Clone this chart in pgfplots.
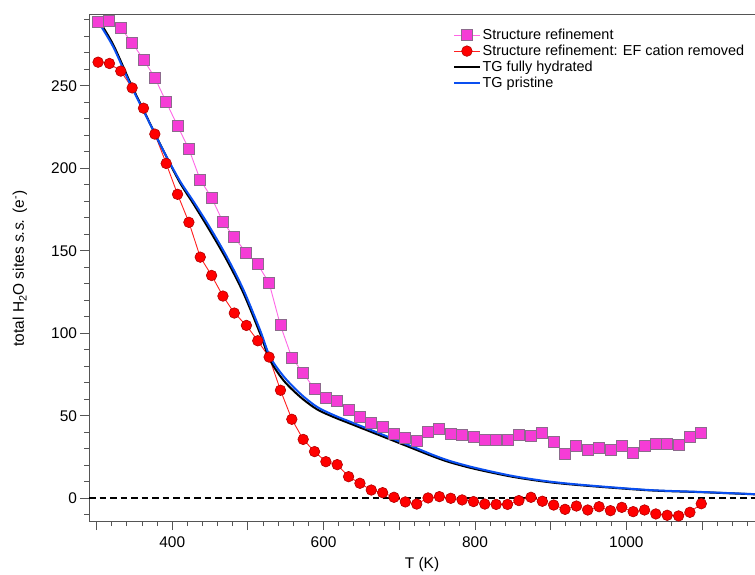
\documentclass[border=0pt]{standalone}
\usepackage{pgfplots}
\pgfplotsset{compat=1.18}
\usepackage{pgfplotstable}
\usepackage{fontspec}
\setmainfont{Liberation Sans}
\definecolor{pinkfill}{HTML}{F53CD6}
\definecolor{pinkedge}{HTML}{8C6A8C}
\definecolor{pinkline}{HTML}{FF66E6}
\definecolor{redfill}{HTML}{FF0000}
\definecolor{rededge}{HTML}{B00000}
\definecolor{redline}{HTML}{FF2020}
\definecolor{tgblue}{HTML}{0A4FF0}
\definecolor{axgray}{HTML}{555555}

\pgfplotstableread{
T pink red
302 288.8 264.4
317 289.3 263.6
332 285.2 259.0
347 276.1 248.8
362 266.0 236.5
377 255.0 220.8
392 240.2 203.0
407 225.8 184.3
422 211.7 167.3
437 193.0 146.2
452 182.3 135.1
467 167.5 122.6
482 158.2 112.3
498 148.7 104.8
513 141.8 95.5
528 130.5 85.6
543 104.8 65.5
558 85.2 47.9
573 76.0 35.7
588 66.1 28.3
603 61.0 22.2
618 59.2 20.4
633 53.3 13.1
648 49.3 9.1
663 45.6 5.0
678 43.0 3.4
693 39.0 0.6
708 36.7 -2.2
723 34.7 -3.5
738 40.2 0.2
753 41.8 1.0
768 38.9 0.0
783 38.4 -1.0
798 37.0 -2.0
813 35.5 -3.5
828 35.5 -3.7
843 35.1 -3.7
858 38.2 -1.4
874 37.8 0.6
889 39.8 -1.8
904 34.1 -4.1
919 27.0 -6.7
934 31.9 -4.7
949 29.1 -7.1
964 30.7 -5.1
979 29.3 -7.5
994 31.9 -5.5
1009 27.6 -8.1
1024 31.5 -7.1
1039 32.9 -9.5
1054 33.1 -10.3
1069 32.3 -10.7
1084 37.0 -8.5
1099 39.6 -3.3
}\refdata

\pgfplotstableread{
T blue black
302 289.0 290.5
322 273.7 275.0
344 251.5 252.5
366 231.3 231.5
388 211.0 211.0
410 192.5 191.5
428 180.0 178.5
450 164.0 162.0
472 146.5 144.5
494 126.5 124.5
516 102.0 100.0
529 86.0 84.0
547 74.0 71.5
569 63.5 61.5
591 55.5 54.0
613 50.5 49.3
635 46.4 45.3
657 42.4 41.3
679 38.4 37.3
701 34.3 33.3
723 30.3 29.3
745 26.2 25.3
767 22.6 21.8
800 18.5 17.8
850 13.5 13.0
899 10.1 9.7
950 7.8 7.5
1031 5.0 4.8
1100 3.8 3.7
1170 2.5 2.4
}\tgdata

\begin{document}
\begin{tikzpicture}
\begin{axis}[
  name=ax,
  scale only axis,
  width=666bp, height=506.7bp,
  xmin=290, xmax=1170,
  ymin=-14.2, ymax=293,
  axis x line=box, axis y line=left,
  axis line style={-, draw=axgray, line width=1bp},
  xtick pos=bottom, ytick pos=left,
  tick align=outside,
  major tick length=8.5bp, minor tick length=4.5bp,
  every tick/.style={axgray, line width=0.9bp},
  xtick={300,400,...,1100},
  xticklabels={,400,,600,,800,,1000,},
  minor xtick={300,320,...,1160},
  ytick={0,50,...,250},
  minor ytick={-10,0,...,290},
  tick label style={font=\fontsize{15.5}{17}\selectfont},
  xticklabel style={yshift=-3bp},
  /pgf/number format/assume math mode=true,
  xlabel={T (K)},
  ylabel={total H\textsubscript{2}O sites \textit{s.s.} (e\textsuperscript{-})},
  label style={font=\fontsize{15.5}{17}\selectfont},
  xlabel style={at={(axis description cs:0.5,-0.0849)}, anchor=center},
  ylabel style={at={(axis description cs:-0.1036,0.5)}, anchor=center},
  legend style={at={(0.5465,0.976)}, anchor=north west, draw=none, fill=none,
    font=\fontsize{14.5}{16}\selectfont, inner sep=0pt, row sep=-0.2bp,
    cells={anchor=west}},
  legend image code/.code={\draw[mark repeat=2,mark phase=2] plot coordinates {(0cm,0cm) (0.45cm,0cm) (0.9cm,0cm)};},
]
\addplot[black, line width=1.8bp, dash pattern=on 6.5bp off 4bp, forget plot] coordinates {(290,0) (1170,0)};
\addplot[pinkline, line width=0.9bp, mark=square*, mark size=5.5bp,
  mark options={fill=pinkfill, draw=pinkedge, line width=0.9bp, solid}] table[x=T, y=pink] {\refdata};
\addlegendentry{Structure refinement}
\addplot[redline, line width=0.9bp, mark=*, mark size=5.3bp,
  mark options={fill=redfill, draw=rededge, line width=0.6bp, solid}] table[x=T, y=red] {\refdata};
\addlegendentry{Structure refinement: EF cation removed}
\addplot[black, line width=2bp, smooth] table[x=T, y=black] {\tgdata};
\addlegendentry{TG fully hydrated}
\addplot[tgblue, line width=2bp, smooth] table[x=T, y=blue] {\tgdata};
\addlegendentry{TG pristine}
\end{axis}
\pgfresetboundingbox
\path (ax.south west) ++(-89bp,-52.3bp) coordinate (bl);
\path (ax.north east) ++(0bp,15bp) coordinate (tr);
\path (bl) rectangle (tr);
\end{tikzpicture}
\end{document}
